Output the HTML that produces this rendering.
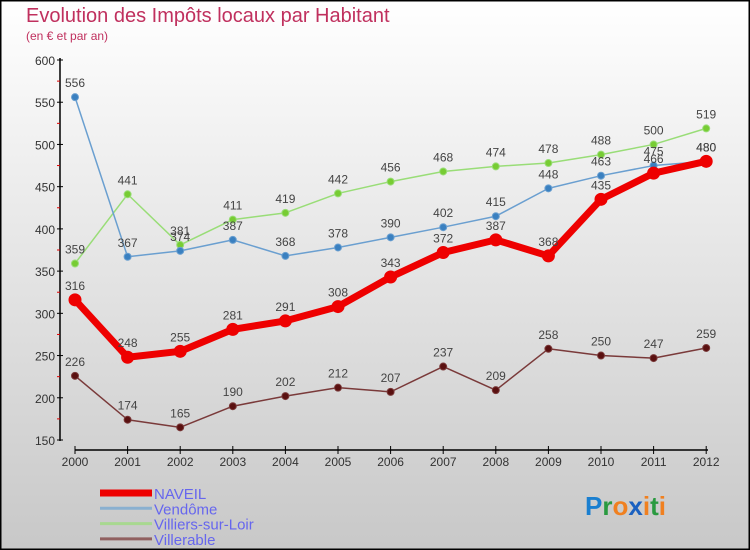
<!DOCTYPE html>
<html><head><meta charset="utf-8"><style>
body{margin:0;width:750px;height:550px;overflow:hidden;font-family:"Liberation Sans",sans-serif}
svg{display:block}
</style></head><body>
<svg id="c" width="750" height="550" xmlns="http://www.w3.org/2000/svg">
<defs><linearGradient id="bg" x1="0" y1="0" x2="0" y2="1"><stop offset="0" stop-color="#ffffff"/><stop offset="1" stop-color="#c8c8c8"/></linearGradient></defs>
<rect x="0.5" y="0.5" width="749" height="549" fill="url(#bg)" stroke="#000" stroke-width="2"/>
<text x="26" y="22" font-size="20" fill="#c0305e">Evolution des Impôts locaux par Habitant</text>
<text x="26" y="40" font-size="12" fill="#c0305e">(en € et par an)</text>
<g id="axes"></g><g id="series"></g><g id="legend"></g>
<g font-size="26" font-weight="bold" font-family="'Liberation Sans',sans-serif">
<text x="585" y="515"><tspan fill="#1a7fd0">P</tspan><tspan fill="#2a9a40">r</tspan><tspan fill="#f08020">o</tspan><tspan fill="#1a60c0">x</tspan><tspan fill="#f08020">i</tspan><tspan fill="#2a9a40">t</tspan><tspan fill="#f08020">i</tspan></text>
</g>
</svg>
<script>
const years=[2000,2001,2002,2003,2004,2005,2006,2007,2008,2009,2010,2011,2012];
const yTicks=[150,200,250,300,350,400,450,500,550,600];
const naveil=[316,248,255,281,291,308,343,372,387,368,435,466,480];
const vendome=[556,367,374,387,368,378,390,402,415,448,463,475,480];
const villiers=[359,441,381,411,419,442,456,468,474,478,488,500,519];
const villerable=[226,174,165,190,202,212,207,237,209,258,250,247,259];
const NS="http://www.w3.org/2000/svg";
const X=i=>75+i*52.6;
const Y=v=>60+(600-v)*380/450;
function mk(t,a,p){const e=document.createElementNS(NS,t);for(const k in a)e.setAttribute(k,a[k]);p.appendChild(e);return e;}
const ax=document.getElementById('axes');
let yl=mk('line',{x1:60,y1:58,x2:60,y2:441,stroke:'#000','stroke-width':1.5},ax);


yTicks.forEach(v=>{
 mk('line',{x1:57,y1:Y(v),x2:63,y2:Y(v),stroke:'#000'},ax);
 if(v<600)mk('line',{x1:57,y1:Y(v+25),x2:60,y2:Y(v+25),stroke:'#d00'},ax);
 const t=mk('text',{x:55,y:Y(v)+5,'text-anchor':'end','font-size':12,fill:'#333'},ax);t.textContent=v;
 
 
});
let xl=mk('line',{x1:75,y1:450,x2:708,y2:450,stroke:'#000','stroke-width':1.5},ax);


years.forEach((y,i)=>{
 mk('line',{x1:X(i),y1:446,x2:X(i),y2:454,stroke:'#000'},ax);
 const t=mk('text',{x:X(i),y:466,'text-anchor':'middle','font-size':12,fill:'#333'},ax);t.textContent=y;
 
 
});
const sg=document.getElementById('series');
function series(d,col,dot,w,r,name){
 const g=mk('g',{},sg);
 
 
 mk('polyline',{points:d.map((v,i)=>X(i)+','+Y(v)).join(' '),fill:'none',stroke:col,'stroke-width':w,'stroke-linejoin':'round'},g);
 d.forEach((v,i)=>{
  const c=mk('circle',{cx:X(i),cy:Y(v),r:r,fill:dot,stroke:col,'stroke-width':1},g);
  
  
  const t=mk('text',{x:X(i),y:Y(v)-10,'text-anchor':'middle','font-size':12,fill:'#444'},g);t.textContent=v;
  
  
 });
}
series(villerable,'#7a3a3a','#5a1010',1.5,3.5,'villerable');
series(villiers,'#99dd77','#77cc33',1.5,3.5,'villiers-sur-loir');
series(vendome,'#6a9fd0','#3a80c0',1.5,3.5,'vendome');
series(naveil,'#ee0000','#ee0000',7,6,'naveil');
const lg=document.getElementById('legend');
[['NAVEIL','#ee0000',7],['Vendôme','#8ab0d0',3],['Villiers-sur-Loir','#a8d890',3],['Villerable','#906060',3]].forEach((e,i)=>{
 const y=493+i*15.3;
 const g=mk('g',{},lg);
 
 
 mk('line',{x1:100,y1:y,x2:152,y2:y,stroke:e[1],'stroke-width':e[2]},g);
 const t=mk('text',{x:154,y:y+6,'font-size':15,fill:'#6666ee'},g);t.textContent=e[0];
});
</script>
</body></html>
